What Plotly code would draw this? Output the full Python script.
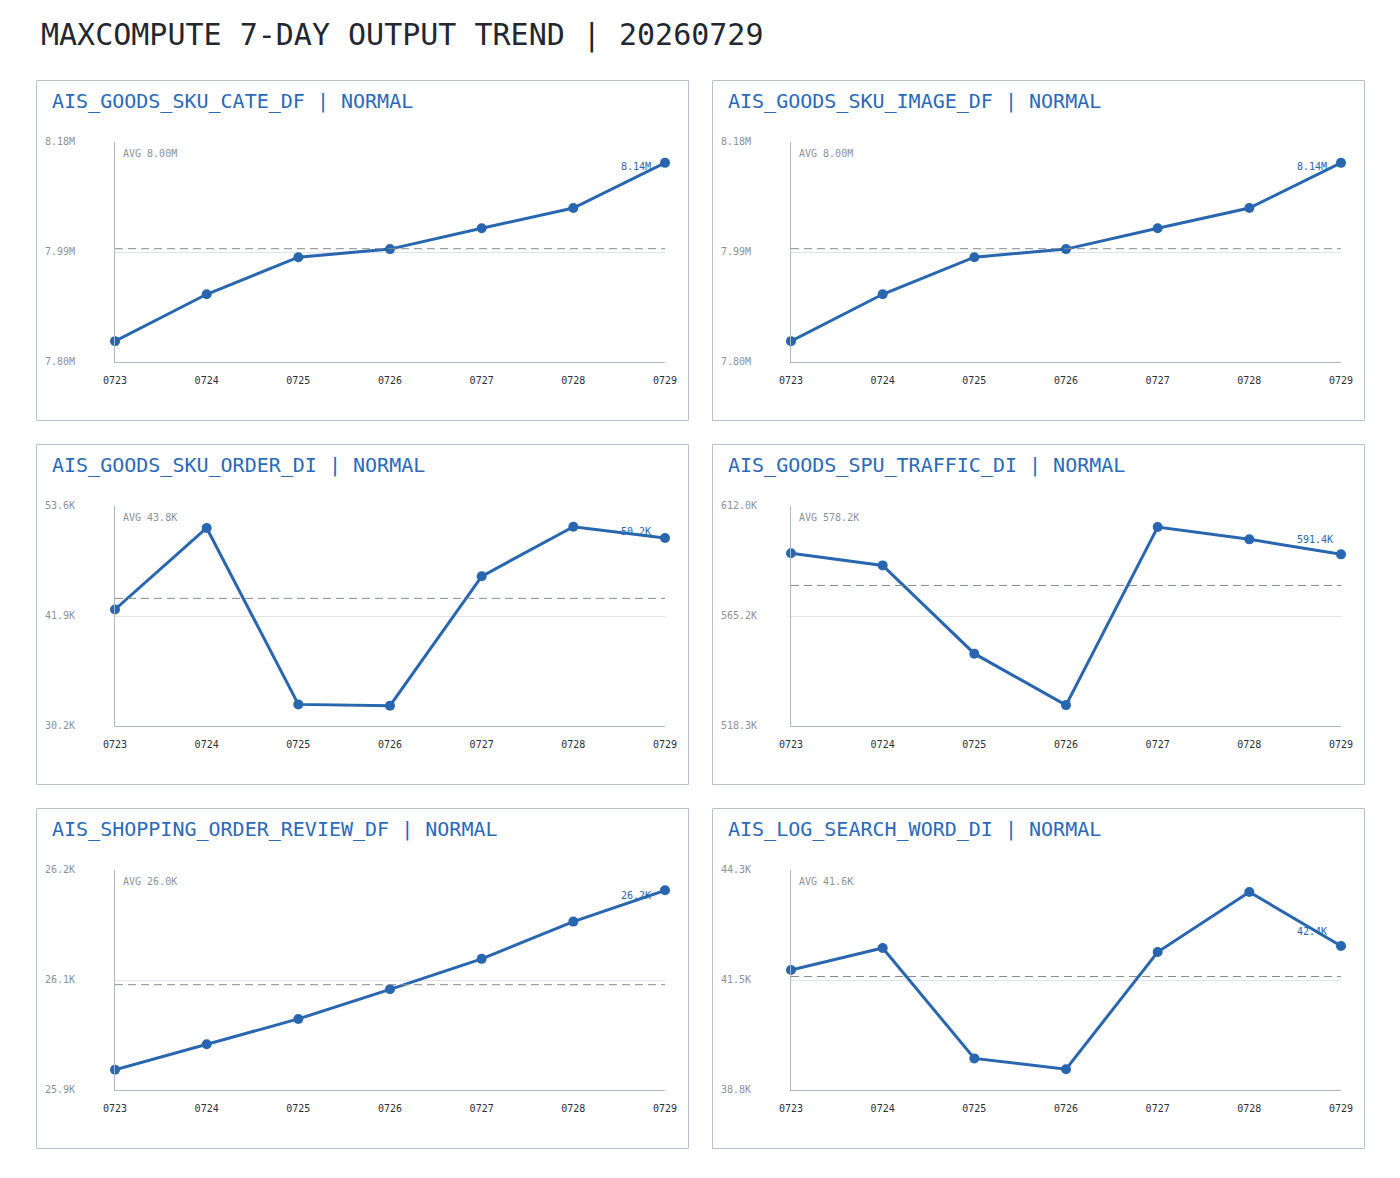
import plotly.graph_objects as go

# page body margin of the browser (8px) is compensated so that screen positions match
OFF = 8
W, H = 1400 - 2 * OFF, 1178 - 2 * OFF

# ---------------- data ----------------
dates = ["0723", "0724", "0725", "0726", "0727", "0728", "0729"]
table_names = [
    "AIS_GOODS_SKU_CATE_DF",
    "AIS_GOODS_SKU_IMAGE_DF",
    "AIS_GOODS_SKU_ORDER_DI",
    "AIS_GOODS_SPU_TRAFFIC_DI",
    "AIS_SHOPPING_ORDER_REVIEW_DF",
    "AIS_LOG_SEARCH_WORD_DI",
]
statuses = ["NORMAL"] * 6
units = ["M", "M", "K", "K", "K", "K"]
decimals = [2, 2, 1, 1, 1, 1]

sku_cate = [7.836, 7.917, 7.981, 7.995, 8.031, 8.066, 8.144]
sku_image = [7.836, 7.917, 7.981, 7.995, 8.031, 8.066, 8.144]
sku_order = [42.6, 51.26, 32.5, 32.36, 46.12, 51.4, 50.2]
spu_traffic = [591.85, 586.7, 549.1, 527.2, 603.05, 597.8, 591.4]
order_review = [25.949, 25.979, 26.009, 26.044, 26.080, 26.124, 26.161]
search_word = [41.80, 42.35, 39.59, 39.32, 42.25, 43.75, 42.40]
series = [sku_cate, sku_image, sku_order, spu_traffic, order_review, search_word]

y_low = [7.80, 7.80, 30.2, 518.3, 25.925, 38.8]
y_high = [8.18, 8.18, 53.6, 612.0, 26.185, 44.3]
y_tick_labels = [
    ["7.80M", "7.99M", "8.18M"],
    ["7.80M", "7.99M", "8.18M"],
    ["30.2K", "41.9K", "53.6K"],
    ["518.3K", "565.2K", "612.0K"],
    ["25.9K", "26.1K", "26.2K"],
    ["38.8K", "41.5K", "44.3K"],
]

title_text = "MAXCOMPUTE 7-DAY OUTPUT TREND | 20260729"

# ---------------- style ----------------
FONT = "DejaVu Sans Mono"
BLUE = "#2866b0"
TITLE_BLUE = "#2a6ab8"
GRAY_TXT = "#8a919c"
DARK_TXT = "#2b2f36"
BORDER = "#b9c2cf"
AXIS = "#b0b8c4"
GRID = "#e0e3ea"

PANEL_W, PANEL_H = 652, 340
PANEL_X = [36, 712]
PANEL_Y = [80, 444, 808]
PLOT_L, PLOT_R = 79, 629
PLOT_T, PLOT_B = 62, 282


def px(x):
    return (x - OFF) / W


def py(y):
    return 1 - (y - OFF) / H


fig = go.Figure()
shapes = []
annotations = [
    dict(text=title_text, x=px(39), y=py(35), xref="paper", yref="paper",
         xanchor="left", yanchor="middle", showarrow=False,
         font=dict(family=FONT, size=30, color="#23272f"))
]

for i, vals in enumerate(series):
    r, c = divmod(i, 2)
    left, top = PANEL_X[c], PANEL_Y[r]
    n = i + 1
    xa = "x" if n == 1 else f"x{n}"
    ya = "y" if n == 1 else f"y{n}"
    lo, hi = y_low[i], y_high[i]
    mid = (lo + hi) / 2
    avg = sum(vals) / len(vals)
    d = decimals[i]
    u = units[i]

    fig.add_trace(go.Scatter(
        x=dates, y=vals, mode="lines+markers", xaxis=xa, yaxis=ya,
        line=dict(color=BLUE, width=3), marker=dict(color=BLUE, size=10),
        cliponaxis=False, showlegend=False, hoverinfo="skip"))

    dom_x = [px(left + PLOT_L), px(left + PLOT_R)]
    dom_y = [py(top + PLOT_B), py(top + PLOT_T)]
    fig.update_layout({
        f"xaxis{'' if n == 1 else n}": dict(
            domain=dom_x, anchor=ya, type="category", range=[0, len(dates) - 1],
            showline=True, linecolor=AXIS, linewidth=1, showgrid=False, zeroline=False,
            ticks="outside", ticklen=9, tickcolor="rgba(0,0,0,0)", automargin=False,
            tickfont=dict(family=FONT, size=10, color=DARK_TXT), fixedrange=True),
        f"yaxis{'' if n == 1 else n}": dict(
            domain=dom_y, anchor=xa, range=[lo, hi], automargin=False,
            showline=True, linecolor=AXIS, linewidth=1, zeroline=False,
            tickvals=[lo, mid, hi], showticklabels=False, ticks="",
            showgrid=True, gridcolor=GRID, gridwidth=1, fixedrange=True),
    })

    # panel border
    shapes.append(dict(type="rect", xref="paper", yref="paper",
                       x0=px(left + 0.5), x1=px(left + PANEL_W + 0.5),
                       y0=py(top + PANEL_H + 0.5), y1=py(top + 0.5),
                       line=dict(color=BORDER, width=1), layer="below"))
    # average dashed line
    shapes.append(dict(type="line", xref=f"{xa} domain", yref=ya,
                       x0=0, x1=1, y0=avg, y1=avg,
                       line=dict(color="#858a93", width=1, dash="8px,5px")))

    # panel title
    annotations.append(dict(
        text=f"{table_names[i]} | {statuses[i]}", x=px(left + 14), y=py(top + 21),
        xref="paper", yref="paper", xanchor="left", yanchor="middle", showarrow=False,
        font=dict(family=FONT, size=20, color=TITLE_BLUE)))
    # y tick labels
    for tv, tl in zip([lo, mid, hi], y_tick_labels[i]):
        annotations.append(dict(
            text=tl, x=px(left + 7), y=tv, xref="paper", yref=ya,
            xanchor="left", yanchor="middle", yshift=1, showarrow=False,
            font=dict(family=FONT, size=10, color=GRAY_TXT)))
    # avg label
    annotations.append(dict(
        text=f"AVG {avg:.{d}f}{u}", x=px(left + PLOT_L + 6), y=py(top + PLOT_T + 11),
        xref="paper", yref="paper", xanchor="left", yanchor="middle", showarrow=False,
        font=dict(family=FONT, size=10, color=GRAY_TXT)))
    # last value label
    last = vals[-1]
    pt_off = (hi - last) / (hi - lo) * (PLOT_B - PLOT_T)
    lbl_off = max(pt_off - 15, 25)
    annotations.append(dict(
        text=f"{last:.{d}f}{u}", x=px(left + PLOT_R - 46), y=last, xref="paper", yref=ya,
        xanchor="left", yanchor="middle", yshift=pt_off - lbl_off,
        showarrow=False, font=dict(family=FONT, size=10, color=BLUE)))

fig.update_layout(
    width=W, height=H, margin=dict(l=0, r=0, t=0, b=0, pad=0, autoexpand=False),
    paper_bgcolor="white", plot_bgcolor="white",
    shapes=shapes, annotations=annotations, showlegend=False,
)

fig.write_html("out.html")
